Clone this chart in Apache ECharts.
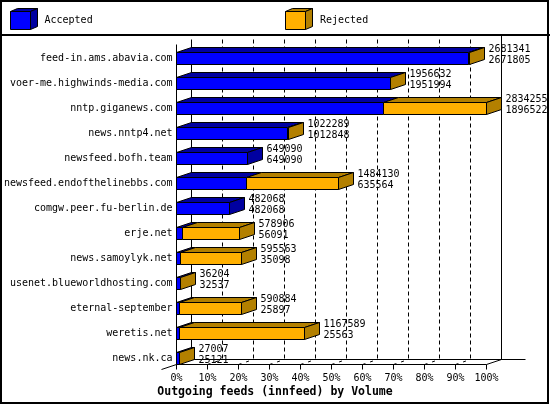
<!DOCTYPE html>
<html>
<head>
<meta charset="utf-8">
<script src="https://cdn.jsdelivr.net/npm/echarts/dist/echarts.min.js"></script>
<style>html,body{margin:0;padding:0;background:#fff}#c{width:550px;height:405px}</style>
</head>
<body>
<div id="c"></div>
<script>
const categories = [
  'feed-in.ams.abavia.com',
  'voer-me.highwinds-media.com',
  'nntp.giganews.com',
  'news.nntp4.net',
  'newsfeed.bofh.team',
  'newsfeed.endofthelinebbs.com',
  'comgw.peer.fu-berlin.de',
  'erje.net',
  'news.samoylyk.net',
  'usenet.blueworldhosting.com',
  'eternal-september',
  'weretis.net',
  'news.nk.ca'
];
const totalVolume = [2681341, 1956632, 2834255, 1022289, 649090, 1484130, 482068, 578906, 595563, 36204, 590884, 1167589, 27007];
const acceptedVolume = [2671805, 1951994, 1896522, 1012848, 649090, 635564, 482068, 56091, 35098, 32537, 25897, 25563, 25121];
const tickLabels = ['0%', '10%', '20%', '30%', '40%', '50%', '60%', '70%', '80%', '90%', '100%'];
const legendNames = ['Accepted', 'Rejected'];
const titleText = 'Outgoing feeds (innfeed) by Volume';

const MAX = Math.max.apply(null, totalVolume);
const STEP = MAX / (tickLabels.length - 1);
const DX = 15, DY = 5, HALF = 6;
const FAMILY = '"DejaVu Sans Mono", monospace';
const FONT = '10px ' + FAMILY;
const BLUE = '#0000ff', BLUE_D = '#0000a0';
const ORANGE = '#ffb000', ORANGE_D = '#b38000';
const px = v => Math.round(v - 0.5) + 0.5;

function textEl(str, x, y) {
  return {
    type: 'text',
    style: {
      text: str, x: x, y: y, font: FONT, fill: '#000',
      textAlign: 'left', textVerticalAlign: 'middle', align: 'left', verticalAlign: 'middle'
    }
  };
}
function ln(x1, y1, x2, y2, dash) {
  return {
    type: 'line',
    shape: { x1: x1, y1: y1, x2: x2, y2: y2 },
    style: { stroke: '#000', lineWidth: 1, lineDash: dash || null }
  };
}

function renderFrame(params, api) {
  const k = params.dataIndex;
  const last = tickLabels.length - 1;
  const cs = params.coordSys;
  const x = px(api.coord([api.value(0), 0])[0]);
  const xMax = px(api.coord([MAX, 0])[0]);
  const frontY = px(api.coord([0, categories.length - 1])[1]) + HALF;
  const backY = frontY - DY;
  const wallTop = px(cs.y - 6.5);
  const ch = [];
  const edge = (k === 0 || k === last);
  ch.push(ln(x + DX, k === last ? 35 : wallTop, x + DX, backY, edge ? null : [4, 3]));
  ch.push(ln(x, frontY, x, frontY + 5));
  if (k > 0) ch.push(ln(x, frontY, x + DX, backY, k === last ? null : [3, 5]));
  if (k === 0) {
    ch.push(ln(x, wallTop + DY, x, frontY));
    ch.push(ln(x, frontY, xMax, frontY));
    ch.push(ln(x, frontY, x - DX, frontY + DY));
    ch.push(ln(x + DX, backY, xMax + DX + 24, backY));
  }
  return { type: 'group', children: ch };
}

function renderBar(params, api) {
  const a = api.value(0), t = api.value(1), i = api.value(2);
  const x0 = px(api.coord([0, i])[0]);
  const xa = px(api.coord([a, i])[0]);
  const xt = px(api.coord([t, i])[0]);
  const yc = px(api.coord([0, i])[1]);
  const yT = yc - HALF, yB = yc + HALF;
  const ch = [];
  function seg(xl, xr, front, dark) {
    ch.push({
      type: 'polygon',
      shape: { points: [[xl, yT], [xr, yT], [xr + DX, yT - DY], [xl + DX, yT - DY]] },
      style: { fill: dark, stroke: '#000', lineWidth: 1 }
    });
    ch.push({
      type: 'rect',
      shape: { x: xl, y: yT, width: xr - xl, height: yB - yT },
      style: { fill: front, stroke: '#000', lineWidth: 1 }
    });
  }
  if (xa > x0) seg(x0, xa, BLUE, BLUE_D);
  if (xt > xa) seg(xa, xt, ORANGE, ORANGE_D);
  const sideDark = t > a ? ORANGE_D : BLUE_D;
  ch.push({
    type: 'polygon',
    shape: { points: [[xt, yT], [xt + DX, yT - DY], [xt + DX, yB - DY], [xt, yB]] },
    style: { fill: sideDark, stroke: '#000', lineWidth: 1 }
  });
  ch.push(textEl(String(t), xt + DX + 4, yc - 9));
  ch.push(textEl(String(a), xt + DX + 4, yc + 2));
  return { type: 'group', children: ch };
}

function cube(x, y, front, dark) {
  const w = 20, h = 18, dx = 7, dy = 3;
  return [
    { type: 'polygon', shape: { points: [[x, y], [x + dx, y - dy], [x + w + dx, y - dy], [x + w, y]] }, style: { fill: dark, stroke: '#000', lineWidth: 1 } },
    { type: 'polygon', shape: { points: [[x + w, y], [x + w + dx, y - dy], [x + w + dx, y + h - dy], [x + w, y + h]] }, style: { fill: dark, stroke: '#000', lineWidth: 1 } },
    { type: 'rect', shape: { x: x, y: y, width: w, height: h }, style: { fill: front, stroke: '#000', lineWidth: 1 } }
  ];
}

const chart = echarts.init(document.getElementById('c'), null, { renderer: 'canvas', width: 550, height: 405 });
chart.setOption({
  backgroundColor: '#fff',
  animation: false,
  title: {
    text: titleText, left: 'center', top: 385, padding: 0,
    textStyle: { fontFamily: FAMILY, fontSize: 11.5, fontWeight: 'bold', color: '#000', lineHeight: 14 }
  },
  graphic: [].concat(
    [
      { type: 'rect', shape: { x: 1, y: 1, width: 547, height: 402 }, style: { fill: 'none', stroke: '#000', lineWidth: 2 } },
      { type: 'line', shape: { x1: 0, y1: 35, x2: 550, y2: 35 }, style: { stroke: '#000', lineWidth: 2 } }
    ],
    cube(10.5, 11.5, BLUE, BLUE_D),
    cube(285.5, 11.5, ORANGE, ORANGE_D),
    [
      { type: 'text', x: 44.5, y: 20.5, style: { text: legendNames[0], font: FONT, fill: '#000', textVerticalAlign: 'middle', verticalAlign: 'middle' } },
      { type: 'text', x: 320, y: 20.5, style: { text: legendNames[1], font: FONT, fill: '#000', textVerticalAlign: 'middle', verticalAlign: 'middle' } }
    ]
  ),
  grid: { left: 176.5, top: 46, width: 310, height: 325, containLabel: false },
  xAxis: {
    type: 'value', min: 0, max: MAX, interval: STEP,
    axisLine: { show: false }, axisTick: { show: false }, splitLine: { show: false },
    axisLabel: {
      margin: 2, color: '#000', fontFamily: FAMILY, fontSize: 10,
      formatter: v => tickLabels[Math.round(v / STEP)]
    }
  },
  yAxis: {
    type: 'category', inverse: true, data: categories,
    axisLine: { show: false }, axisTick: { show: false }, splitLine: { show: false },
    axisLabel: { margin: 4, interval: 0, color: '#000', fontFamily: FAMILY, fontSize: 10 }
  },
  series: [
    {
      type: 'custom', name: 'frame', z: 1, silent: true,
      renderItem: renderFrame,
      encode: { x: 0, y: 1 },
      data: tickLabels.map((_, k) => [k * STEP, 0])
    },
    {
      type: 'custom', name: 'volume', z: 2, silent: true,
      renderItem: renderBar,
      encode: { x: [0, 1], y: 2 },
      data: categories.map((c, i) => [acceptedVolume[i], totalVolume[i], i])
    }
  ]
});
</script>
</body>
</html>
